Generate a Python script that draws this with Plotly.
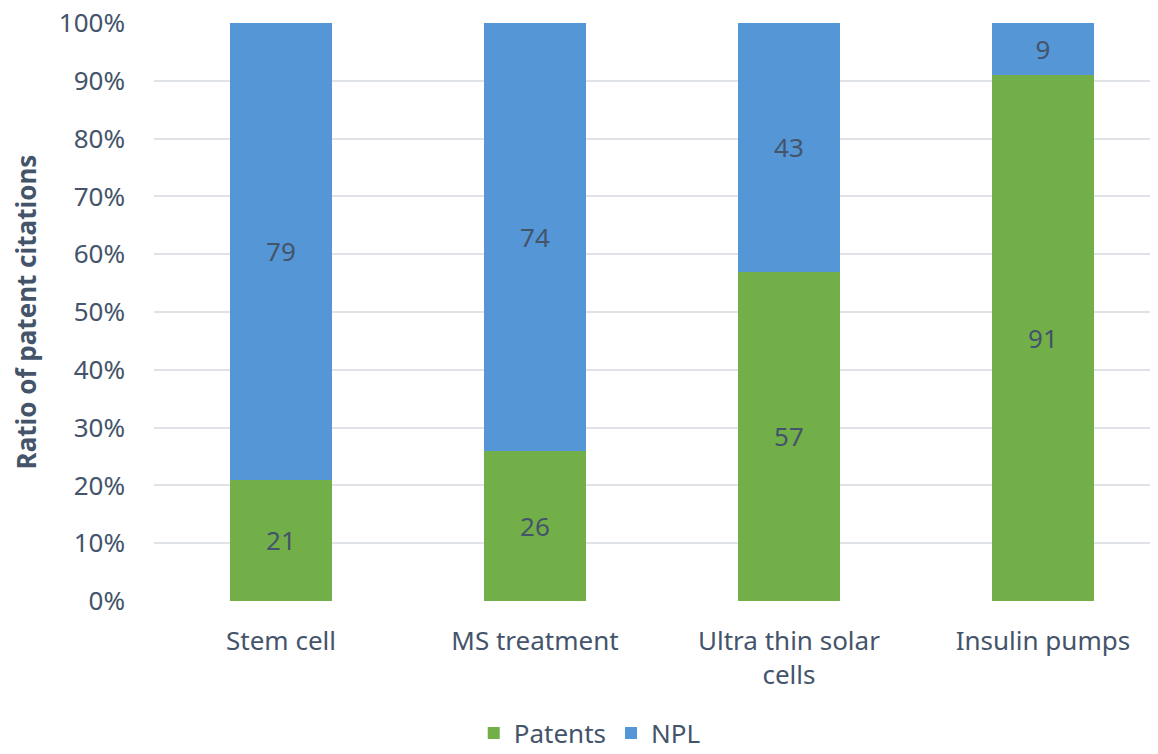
import plotly.graph_objects as go

categories = ["Stem cell", "MS treatment", "Ultra thin solar<br>cells", "Insulin pumps"]
patents = [21, 26, 57, 91]
npl = [79, 74, 43, 9]
y_ticks = [0, 10, 20, 30, 40, 50, 60, 70, 80, 90, 100]
y_tick_labels = [f"{v}%" for v in y_ticks]

TXT = "#44546A"
FONT = "Noto Sans, Liberation Sans, sans-serif"
FS = 26

fig = go.Figure()
fig.add_trace(go.Bar(
    x=categories, y=patents, name="Patents",
    marker=dict(color="#72AF48", line=dict(width=0)),
    text=patents, textposition="inside", insidetextanchor="middle",
    textfont=dict(size=FS, color=TXT, family=FONT),
    width=0.405,
))
fig.add_trace(go.Bar(
    x=categories, y=npl, name="NPL",
    marker=dict(color="#5597D6", line=dict(width=0)),
    text=npl, textposition="inside", insidetextanchor="middle",
    textfont=dict(size=FS, color=TXT, family=FONT),
    width=0.405,
))

fig.update_layout(
    width=1150, height=746,
    barmode="stack", barnorm="percent",
    paper_bgcolor="white", plot_bgcolor="white",
    margin=dict(l=146, r=0, t=15, b=153, autoexpand=False),
    font=dict(family=FONT, color=TXT, size=FS),
    uniformtext=dict(mode=False),
    legend=dict(
        orientation="h", x=0.434, xanchor="center",
        yref="container", y=0.028, yanchor="middle",
        font=dict(size=FS, color=TXT, family=FONT),
        traceorder="normal",
    ),
    xaxis=dict(
        range=[-0.5, 3.453], showgrid=False, showline=False, zeroline=False,
        tickfont=dict(size=FS, color=TXT, family=FONT), ticks="", ticklabelstandoff=22,
        automargin=False,
    ),
    yaxis=dict(
        range=[0, 100], tickvals=y_ticks, ticktext=y_tick_labels,
        showgrid=True, gridcolor="#DFE2E7", gridwidth=2,
        zeroline=False, showline=False, ticks="",
        tickfont=dict(size=FS, color=TXT, family=FONT),
        ticklabelstandoff=28, automargin=False, ticklabeloverflow="allow",
        title=dict(text="<b>Ratio of patent citations</b>", font=dict(size=FS, color=TXT, family=FONT), standoff=24),
    ),
)

fig.write_html("out.html")
